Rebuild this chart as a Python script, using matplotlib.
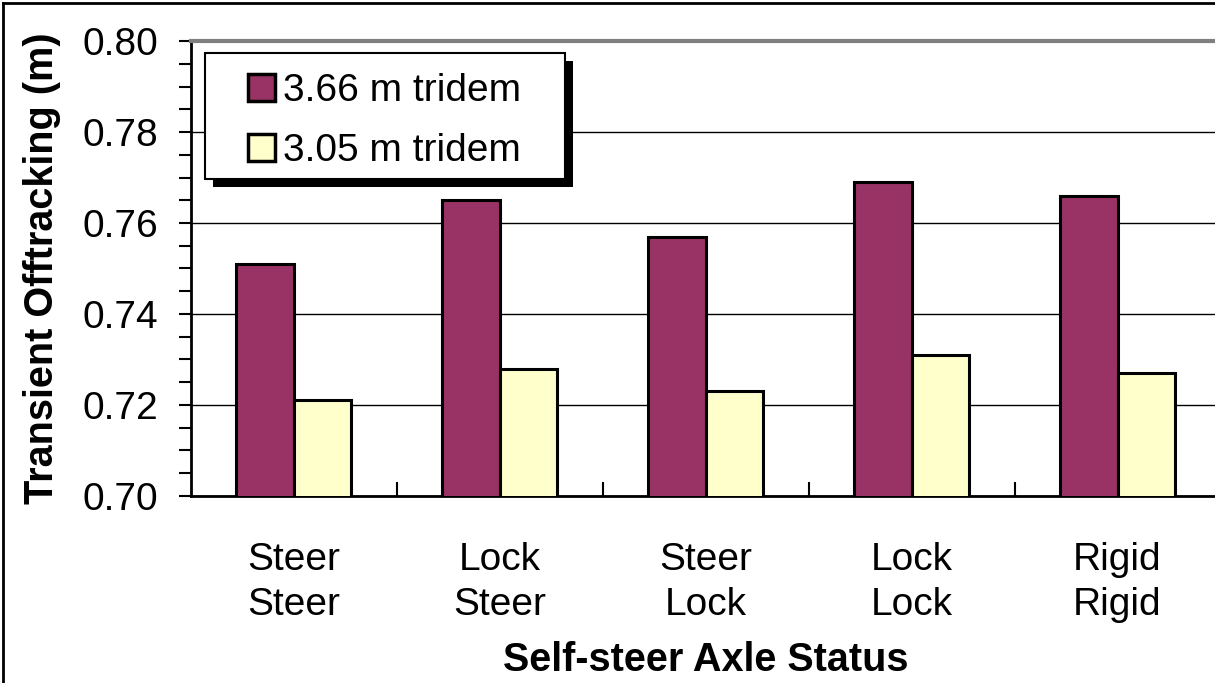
import numpy as np
import matplotlib
matplotlib.use("Agg")
import matplotlib.pyplot as plt
from matplotlib.patches import Rectangle
from matplotlib.ticker import MultipleLocator, FixedLocator, NullFormatter

plt.rcParams["font.family"] = ["Liberation Sans", "DejaVu Sans"]

# data
categories = ["Steer\nSteer", "Lock\nSteer", "Steer\nLock", "Lock\nLock", "Rigid\nRigid"]
series_names = ["3.66 m tridem", "3.05 m tridem"]
tridem_366 = [0.751, 0.765, 0.757, 0.769, 0.766]
tridem_305 = [0.721, 0.728, 0.723, 0.731, 0.727]
colors = ["#993366", "#FFFFCC"]

W, H = 1215, 683
FS = 28
fig = plt.figure(figsize=(W / 100, H / 100), dpi=100)


def fx(px):
    return px / W


def fy(py):
    return 1 - py / H


# figure border (left + top visible, right/bottom cropped in the original)
fig.add_artist(plt.Line2D([fx(3), fx(3)], [0, fy(3)], color="black", lw=2))
fig.add_artist(plt.Line2D([fx(3), 1], [fy(3), fy(3)], color="black", lw=2))

# plot area runs past the right edge, as in the reference
x0, x1, ytop, ybot = 190.5, 1220.5, 41, 496
ax = fig.add_axes([fx(x0), fy(ybot), (x1 - x0) / W, (ybot - ytop) / H])

x = np.arange(len(categories))
bw = 0.28
ax.bar(x - bw / 2, tridem_366, bw, color=colors[0], edgecolor="black", lw=2.2,
       label=series_names[0], zorder=3)
ax.bar(x + bw / 2, tridem_305, bw, color=colors[1], edgecolor="black", lw=2.2,
       label=series_names[1], zorder=3)

ax.set_xlim(-0.5, len(categories) - 0.5)
ax.set_ylim(0.70, 0.80)

ax.yaxis.set_major_locator(MultipleLocator(0.02))
ax.yaxis.set_minor_locator(MultipleLocator(0.005))
ax.yaxis.set_major_formatter(matplotlib.ticker.FormatStrFormatter("%.2f"))
ax.tick_params(axis="y", which="both", direction="out", length=9, width=1.5,
               labelsize=FS, pad=14)
ax.grid(axis="y", which="major", color="black", lw=1, zorder=1)

# category labels in the middle, tick marks on boundaries pointing inwards
ax.xaxis.set_major_locator(FixedLocator(np.arange(len(categories) - 1) + 0.5))
ax.xaxis.set_major_formatter(NullFormatter())
ax.xaxis.set_minor_locator(FixedLocator(x))
ax.set_xticklabels(categories, minor=True, fontsize=FS, linespacing=1.33)
ax.tick_params(axis="x", which="major", direction="in", length=10, width=1.5)
ax.tick_params(axis="x", which="minor", length=0, pad=33)

for s in ["left", "bottom"]:
    ax.spines[s].set_linewidth(2)
ax.spines["top"].set_color("#808080")
ax.spines["top"].set_linewidth(3)
ax.spines["right"].set_visible(False)

ax.set_ylabel("Transient Offtracking (m)", fontsize=FS + 0.5, fontweight="bold", labelpad=16)
ax.set_xlabel("Self-steer Axle Status", fontsize=FS + 0.5, fontweight="bold", labelpad=13)

# legend entries without frame; the Excel-like box and hard shadow are drawn separately
leg = fig.legend(*ax.get_legend_handles_labels(), loc="upper left",
                 bbox_to_anchor=(fx(248), fy(73)), bbox_transform=fig.transFigure,
                 fontsize=FS, frameon=False,
                 handlelength=0.69, handleheight=0.69, handletextpad=0.2,
                 borderpad=0, borderaxespad=0, labelspacing=0.62)
for h in leg.legend_handles:
    h.set_linewidth(2.5)
leg.set_zorder(12)

lx0, ly0, lx1, ly1 = 205, 53, 565, 179
off = 8
fig.add_artist(Rectangle((fx(lx0 + off), fy(ly1 + off)), (lx1 - lx0) / W, (ly1 - ly0) / H,
                         transform=fig.transFigure, facecolor="black", edgecolor="none", zorder=10))
fig.add_artist(Rectangle((fx(lx0), fy(ly1)), (lx1 - lx0) / W, (ly1 - ly0) / H,
                         transform=fig.transFigure, facecolor="white", edgecolor="black",
                         lw=1.5, zorder=11))

fig.savefig("out.png", dpi=100)
